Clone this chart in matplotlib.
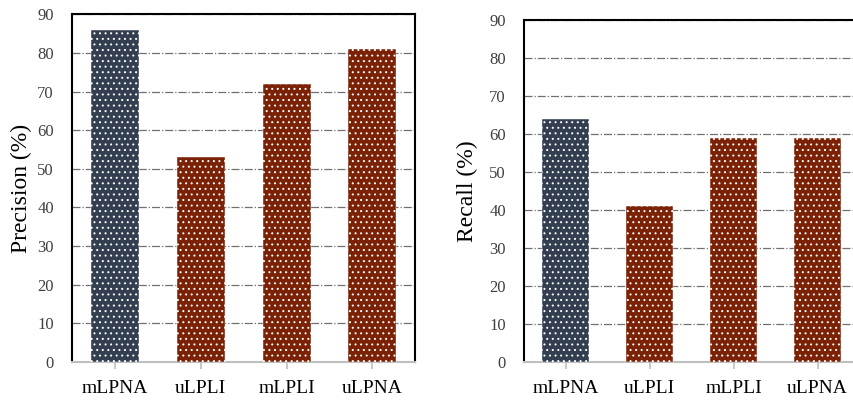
import numpy as np
import matplotlib.pyplot as plt

methods = ["mLPNA", "uLPLI", "mLPLI", "uLPNA"]
precision = [86, 53, 72, 81]
recall = [64, 41, 59, 59]

navy = "#333f50"
rust = "#7b2106"
colors = [navy, rust, rust, rust]

plt.rcParams["font.family"] = "Liberation Serif"
plt.rcParams["hatch.linewidth"] = 0.7

fig = plt.figure(figsize=(8.54, 4.03), dpi=100)
ax1 = fig.add_axes([0.0843, 0.1017, 0.402, 0.863])
ax2 = fig.add_axes([0.6136, 0.1017, 0.393, 0.849])


def draw(ax, vals, ylabel, labelpad):
    x = np.arange(len(methods))
    ax.bar(x, vals, width=0.56, color=colors, edgecolor="white",
           linewidth=0.3, hatch="...", zorder=3)
    ax.set_xlim(-0.5, len(methods) - 0.5)
    ax.set_ylim(0, 90)
    ax.set_yticks(range(0, 91, 10))
    ax.set_xticks(x)
    ax.set_xticklabels(methods, fontsize=14)
    ax.set_ylabel(ylabel, fontsize=17, labelpad=labelpad)
    ax.grid(axis="y", color="#707070", linestyle="-.", linewidth=0.9, zorder=0)
    ax.tick_params(axis="y", length=0, labelsize=12, labelcolor="#404040", pad=13)
    ax.tick_params(axis="x", direction="out", length=5, color="#bfbfbf",
                   width=1.2, pad=8)
    for s in ["top", "left", "right"]:
        ax.spines[s].set_color("black")
        ax.spines[s].set_linewidth(1.5)
    ax.spines["bottom"].set_color("#bfbfbf")
    ax.spines["bottom"].set_linewidth(1.5)


draw(ax1, precision, "Precision (%)", 4)
draw(ax2, recall, "Recall (%)", 8)

fig.savefig("out.png", dpi=100)
